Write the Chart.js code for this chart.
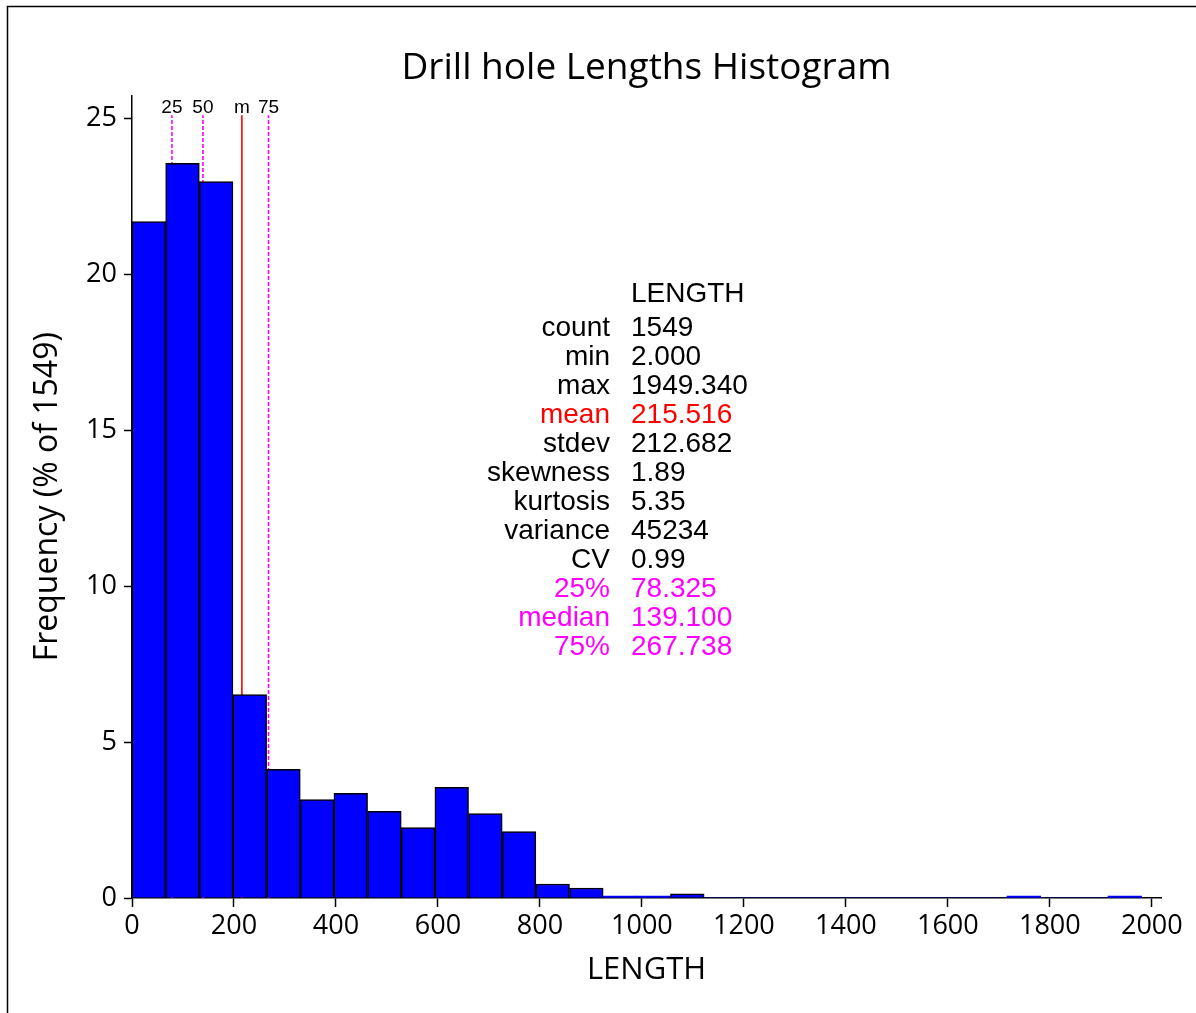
<!DOCTYPE html>
<html>
<head>
<meta charset="utf-8">
<title>Drill hole Lengths Histogram</title>
<script src="https://cdn.jsdelivr.net/npm/chart.js@4.4.1/dist/chart.umd.min.js"></script>
<style>
  html, body { margin: 0; padding: 0; background: #fff; }
  canvas { display: block; }
</style>
</head>
<body>
<canvas id="histChart" width="1196" height="1013"></canvas>
<script>
// Left edge of each LENGTH bin, every bin is 66 wide
const binStarts = [0, 66, 132, 198, 264, 330, 396, 462, 528, 594, 660, 726, 792, 858, 924,
    990, 1056, 1122, 1188, 1254, 1320, 1386, 1452, 1518, 1584, 1650, 1716, 1782, 1848, 1914];
const binWidth = 66;

// Share of holes in each bin (% of 1549)
const freqPct = [21.69, 23.56, 22.98, 6.52, 4.13, 3.16, 3.36, 2.78, 2.26, 3.55, 2.71, 2.13, 0.45, 0.32, 0.065,
    0.065, 0.13, 0, 0, 0, 0, 0, 0, 0, 0, 0, 0.065, 0, 0, 0.065];

// Axis tick values
const lengthTicks = [0, 200, 400, 600, 800, 1000, 1200, 1400, 1600, 1800, 2000];
const freqTicks = [0, 5, 10, 15, 20, 25];

// Summary statistics printed beside the bars
const statNames = ['count', 'min', 'max', 'mean', 'stdev', 'skewness', 'kurtosis', 'variance', 'CV', '25%', 'median', '75%'];
const statValues = ['1549', '2.000', '1949.340', '215.516', '212.682', '1.89', '5.35', '45234', '0.99', '78.325', '139.100', '267.738'];

// Quartile / mean marker lines
const markerLabels = ['25', '50', 'm', '75'];
const markerValues = [78.325, 139.100, 215.516, 267.738];

const RED = '#ff0000';
const MAGENTA = '#ff00ff';
const statColor = { mean: RED, '25%': MAGENTA, median: MAGENTA, '75%': MAGENTA };
const markerColor = [MAGENTA, MAGENTA, RED, MAGENTA];
const markerTop = 25.1;

const axisFont = { family: "'Open Sans', sans-serif", size: 27 };
const statFont = "28px 'Liberation Sans', Arial, sans-serif";

const bars = binStarts.map((s, i) => ({ x: s + binWidth / 2, y: freqPct[i] }));

const markerSets = markerValues.map((v, i) => ({
    type: 'line',
    data: [{ x: v, y: 0 }, { x: v, y: markerTop }],
    borderColor: markerColor[i],
    borderWidth: 1.6,
    borderDash: markerLabels[i] === 'm' ? [] : [4, 2],
    pointRadius: 0,
    order: 2,
}));

// frame, marker captions and the stats table
const overlay = {
    id: 'overlay',
    beforeDraw(chart) {
        const { ctx, width, height } = chart;
        ctx.save();
        ctx.fillStyle = '#fff';
        ctx.fillRect(0, 0, width, height);
        ctx.strokeStyle = '#000';
        ctx.lineWidth = 1.5;
        ctx.beginPath();
        ctx.moveTo(7.5, height);
        ctx.lineTo(7.5, 6.5);
        ctx.lineTo(width, 6.5);
        ctx.stroke();
        ctx.restore();
    },
    afterDraw(chart) {
        const { ctx, scales: { x, y } } = chart;
        ctx.save();
        ctx.fillStyle = '#000';
        ctx.textAlign = 'center';
        ctx.textBaseline = 'middle';
        ctx.font = "19px 'Liberation Sans', Arial, sans-serif";
        const capY = y.getPixelForValue(markerTop) - 8;
        markerValues.forEach((v, i) => ctx.fillText(markerLabels[i], x.getPixelForValue(v), capY));

        ctx.font = statFont;
        const colX = 631;
        let rowY = 294;
        ctx.textAlign = 'left';
        ctx.fillText('LENGTH', colX, rowY);
        rowY += 5;
        statNames.forEach((name, i) => {
            rowY += 29;
            ctx.fillStyle = statColor[name] || '#000';
            ctx.textAlign = 'right';
            ctx.fillText(name, colX - 21, rowY);
            ctx.textAlign = 'left';
            ctx.fillText(statValues[i], colX, rowY);
        });
        ctx.restore();
    }
};

new Chart(document.getElementById('histChart'), {
    type: 'bar',
    data: {
        datasets: [{
            type: 'bar',
            data: bars,
            backgroundColor: '#0000ff',
            borderColor: '#000',
            borderWidth: ctx => (ctx.raw && ctx.raw.y < 0.1 ? 0 : 1.5),
            barPercentage: 1,
            categoryPercentage: 1,
            order: 1,
        }, ...markerSets]
    },
    options: {
        responsive: false,
        animation: false,
        layout: { padding: { left: 0, right: 35, top: 0, bottom: 0 } },
        plugins: {
            legend: { display: false },
            tooltip: { enabled: false },
            title: {
                display: true,
                fullSize: false,
                text: 'Drill hole Lengths Histogram',
                color: '#000',
                font: { family: "'Open Sans', sans-serif", size: 37, weight: 'normal' },
                padding: { top: 46, bottom: 5 },
            },
        },
        scales: {
            x: {
                type: 'linear',
                min: 0,
                max: 2018,
                offset: false,
                afterBuildTicks(scale) { scale.ticks = lengthTicks.map(v => ({ value: v })); },
                ticks: {
                    autoSkip: false, maxRotation: 0,
                    padding: 3, color: '#000', font: axisFont,
                    callback: v => String(v),
                },
                grid: { display: true, offset: false, drawOnChartArea: false, drawTicks: true, tickLength: 9, tickColor: '#000', tickWidth: 1.5 },
                border: { display: true, color: '#000', width: 1.5 },
                title: {
                    display: true,
                    text: 'LENGTH',
                    color: '#000',
                    font: { family: "'Open Sans', sans-serif", size: 31 },
                    padding: { top: 0, bottom: 24 },
                },
                afterFit(scale) { scale.height = 115; },
            },
            y: {
                min: 0,
                max: 25.74,
                afterBuildTicks(scale) { scale.ticks = freqTicks.map(v => ({ value: v })); },
                ticks: { padding: 7, color: '#000', font: axisFont },
                grid: { display: true, drawOnChartArea: false, drawTicks: true, tickLength: 8, tickColor: '#000', tickWidth: 1.5 },
                border: { display: true, color: '#000', width: 1.5 },
                title: {
                    display: true,
                    text: 'Frequency (% of 1549)',
                    color: '#000',
                    font: { family: "'Open Sans', sans-serif", size: 32 },
                    padding: { top: 29, bottom: 0 },
                },
                afterFit(scale) { scale.width = 132; },
            },
        },
    },
    plugins: [overlay],
});
</script>
</body>
</html>
